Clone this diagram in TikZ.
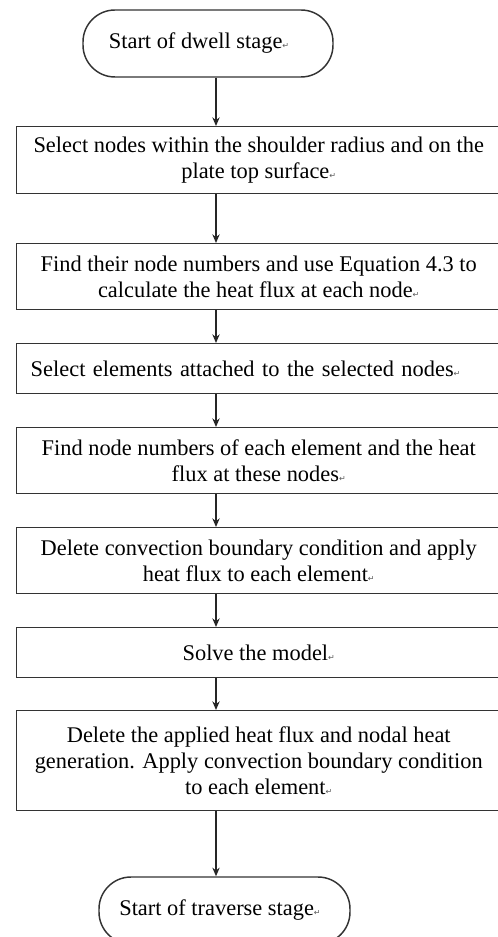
\documentclass[tikz,border=0pt]{standalone}
\usepackage{fontspec}
\setmainfont{Liberation Serif}
\newfontfamily\markfont{DejaVu Sans}
\usetikzlibrary{arrows.meta}
\newdimen\pxu \pxu=0.75pt
\newcommand\parmark{{\markfont\fontsize{6}{6}\selectfont\textcolor{black!65}{↵}}}
\begin{document}
\begin{tikzpicture}[x=0.75pt,y=-0.75pt,
  every node/.style={font=\fontsize{16.8}{19.5}\selectfont, text=black},
  stepbox/.style={draw=black!80, line width=1.1pt, rectangle, anchor=north west,
    minimum width=484\pxu, align=center, inner sep=0pt},
  termbox/.style={draw=black!80, line width=1.1pt, rectangle, rounded corners=24pt,
    minimum width=250\pxu, minimum height=67\pxu, inner sep=0pt},
  arr/.style={draw=black!85, line width=0.9pt, -{Stealth[length=6.5pt, width=5.5pt]}}]
\useasboundingbox (0,0) rectangle (497,937);

% flow axis shared by all connectors
\coordinate (axis) at (216,0);

\node[termbox] (t1) at (208,43.5) {Start of dwell stage\parmark\hspace*{18\pxu}};

\node[stepbox, minimum height=67\pxu] (b1) at (16,126)
  {Select nodes within the shoulder radius and on the\\plate top surface\parmark};
\node[stepbox, minimum height=66\pxu] (b2) at (16,243)
  {Find their node numbers and use Equation 4.3 to\\calculate the heat flux at each node\parmark};
\node[stepbox, minimum height=50\pxu, align=left, text width=456\pxu, inner xsep=14\pxu] (b3) at (16,343)
  {Select elements attached to the selected nodes\parmark};
\node[stepbox, minimum height=66\pxu] (b4) at (16,427)
  {Find node numbers of each element and the heat\\flux at these nodes\parmark};
\node[stepbox, minimum height=66\pxu] (b5) at (16,527)
  {Delete convection boundary condition and apply\\heat flux to each element\parmark};
\node[stepbox, minimum height=50\pxu] (b6) at (16,627)
  {Solve the model\parmark};
\node[stepbox, minimum height=100\pxu] (b7) at (16,710)
  {Delete the applied heat flux and nodal heat\\generation. Apply convection boundary condition\\to each element\parmark};

\node[termbox, minimum width=251\pxu] (t2) at (224.5,910.5) {Start of traverse stage\parmark\hspace*{9\pxu}};

\draw[arr] (t1.south -| axis) -- (b1.north -| axis);
\draw[arr] (b1.south -| axis) -- (b2.north -| axis);
\draw[arr] (b2.south -| axis) -- (b3.north -| axis);
\draw[arr] (b3.south -| axis) -- (b4.north -| axis);
\draw[arr] (b4.south -| axis) -- (b5.north -| axis);
\draw[arr] (b5.south -| axis) -- (b6.north -| axis);
\draw[arr] (b6.south -| axis) -- (b7.north -| axis);
\draw[arr] (b7.south -| axis) -- (t2.north -| axis);
\end{tikzpicture}
\end{document}
